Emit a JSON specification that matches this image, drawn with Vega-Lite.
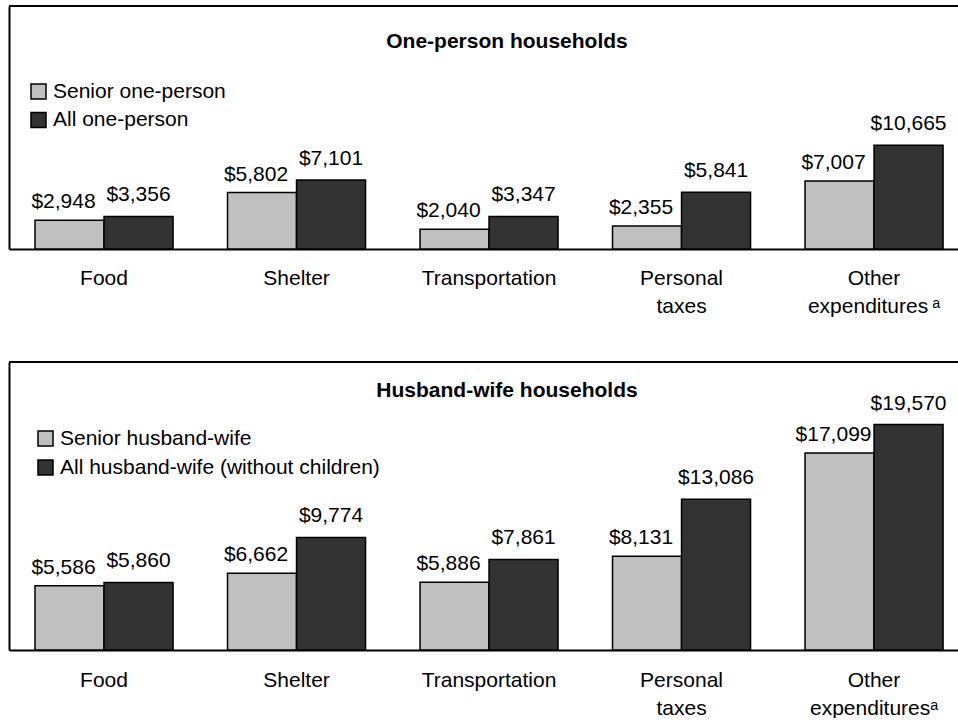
{
  "$schema": "https://vega.github.io/schema/vega-lite/v6.json",
  "padding": {"left": 8, "top": 5, "right": 0, "bottom": 0},
  "background": "white",
  "config": {
    "font": "Liberation Sans",
    "view": {"stroke": null},
    "axis": {"grid": false, "minExtent": 0},
    "concat": {"spacing": 45}
  },
  "data": {
    "values": [
      {"panel": "one", "category": "Food", "series": "Senior one-person", "group": "senior", "value": 2948},
      {"panel": "one", "category": "Food", "series": "All one-person", "group": "all", "value": 3356},
      {"panel": "one", "category": "Shelter", "series": "Senior one-person", "group": "senior", "value": 5802},
      {"panel": "one", "category": "Shelter", "series": "All one-person", "group": "all", "value": 7101},
      {"panel": "one", "category": "Transportation", "series": "Senior one-person", "group": "senior", "value": 2040},
      {"panel": "one", "category": "Transportation", "series": "All one-person", "group": "all", "value": 3347},
      {"panel": "one", "category": "Personal taxes", "series": "Senior one-person", "group": "senior", "value": 2355},
      {"panel": "one", "category": "Personal taxes", "series": "All one-person", "group": "all", "value": 5841},
      {"panel": "one", "category": "Other expenditures", "series": "Senior one-person", "group": "senior", "value": 7007},
      {"panel": "one", "category": "Other expenditures", "series": "All one-person", "group": "all", "value": 10665},
      {"panel": "hw", "category": "Food", "series": "Senior husband-wife", "group": "senior", "value": 5586},
      {"panel": "hw", "category": "Food", "series": "All husband-wife (without children)", "group": "all", "value": 5860},
      {"panel": "hw", "category": "Shelter", "series": "Senior husband-wife", "group": "senior", "value": 6662},
      {"panel": "hw", "category": "Shelter", "series": "All husband-wife (without children)", "group": "all", "value": 9774},
      {"panel": "hw", "category": "Transportation", "series": "Senior husband-wife", "group": "senior", "value": 5886},
      {"panel": "hw", "category": "Transportation", "series": "All husband-wife (without children)", "group": "all", "value": 7861},
      {"panel": "hw", "category": "Personal taxes", "series": "Senior husband-wife", "group": "senior", "value": 8131},
      {"panel": "hw", "category": "Personal taxes", "series": "All husband-wife (without children)", "group": "all", "value": 13086},
      {"panel": "hw", "category": "Other expenditures", "series": "Senior husband-wife", "group": "senior", "value": 17099},
      {"panel": "hw", "category": "Other expenditures", "series": "All husband-wife (without children)", "group": "all", "value": 19570}
    ]
  },
  "resolve": {
    "scale": {"color": "independent", "y": "independent", "xOffset": "independent", "x": "independent"},
    "legend": {"color": "independent"}
  },
  "vconcat": [
    {
      "transform": [{"filter": "datum.panel == 'one'"}],
      "width": 950,
      "height": 243,
      "title": {"text": "One-person households", "anchor": "middle", "frame": "group", "offset": -58, "dx": 23, "baseline": "middle", "fontSize": 21, "fontWeight": "bold", "font": "Liberation Sans", "color": "black"},
      "layer": [
        {
          "mark": {"type": "bar", "stroke": "black", "strokeWidth": 1.5},
          "encoding": {
            "x": {"field": "category", "type": "nominal", "sort": ["Food", "Shelter", "Transportation", "Personal taxes", "Other expenditures"],
              "scale": {"paddingInner": 0.283, "paddingOuter": 0.109, "align": 0.62},
              "axis": {"title": null, "domain": true, "domainColor": "black", "domainWidth": 2, "ticks": false, "labelAngle": 0, "labelFontSize": 21, "labelFont": "Liberation Sans", "labelColor": "black", "labelPadding": 18, "labelLineHeight": 28, "labelBaseline": "top", "labelOverlap": false, "labelLimit": 400,
                "labelExpr": "datum.value == 'Personal taxes' ? ['Personal', 'taxes'] : datum.value == 'Other expenditures' ? ['Other', 'expenditures\u2009\u1d43'] : datum.value"}},
            "xOffset": {"field": "group", "sort": ["senior", "all"], "scale": {"paddingInner": 0, "paddingOuter": 0}},
            "y": {"field": "value", "type": "quantitative", "scale": {"domain": [0, 25000], "nice": false},
              "axis": {"title": null, "domain": true, "domainColor": "black", "domainWidth": 2, "ticks": false, "labels": false, "grid": false}},
            "color": {"field": "series", "type": "nominal",
              "scale": {"domain": ["Senior one-person", "All one-person"], "range": ["#c0c0c0", "#333333"]},
              "legend": {"orient": "none", "legendX": 19, "legendY": 75, "title": null, "symbolType": "square", "symbolSize": 225, "symbolStrokeColor": "black", "symbolStrokeWidth": 1.5, "symbolOpacity": 1, "labelFontSize": 21, "labelFont": "Liberation Sans", "labelColor": "black", "rowPadding": 6.5, "labelOffset": 4, "labelLimit": 500}}
          }
        },
        {
          "transform": [{"filter": "datum.group == 'senior'"}],
          "mark": {"type": "text", "baseline": "alphabetic", "dy": -12, "dx": -6, "fontSize": 21, "color": "black"},
          "encoding": {
            "x": {"field": "category", "type": "nominal", "sort": ["Food", "Shelter", "Transportation", "Personal taxes", "Other expenditures"]},
            "xOffset": {"field": "group", "sort": ["senior", "all"]},
            "y": {"field": "value", "type": "quantitative"},
            "text": {"field": "value", "type": "quantitative", "format": "$,"}
          }
        },
        {
          "transform": [{"filter": "datum.group == 'all'"}],
          "mark": {"type": "text", "baseline": "alphabetic", "dy": -15, "fontSize": 21, "color": "black"},
          "encoding": {
            "x": {"field": "category", "type": "nominal", "sort": ["Food", "Shelter", "Transportation", "Personal taxes", "Other expenditures"]},
            "xOffset": {"field": "group", "sort": ["senior", "all"]},
            "y": {"field": "value", "type": "quantitative"},
            "text": {"field": "value", "type": "quantitative", "format": "$,"}
          }
        },
        {
          "mark": {"type": "rule", "strokeWidth": 2, "color": "black"},
          "encoding": {"y": {"datum": 25000}}
        }
      ]
    },
    {
      "transform": [{"filter": "datum.panel == 'hw'"}],
      "width": 950,
      "height": 288,
      "title": {"text": "Husband-wife households", "anchor": "middle", "frame": "group", "offset": -51, "dx": 23, "baseline": "middle", "fontSize": 21, "fontWeight": "bold", "font": "Liberation Sans", "color": "black"},
      "layer": [
        {
          "mark": {"type": "bar", "stroke": "black", "strokeWidth": 1.5},
          "encoding": {
            "x": {"field": "category", "type": "nominal", "sort": ["Food", "Shelter", "Transportation", "Personal taxes", "Other expenditures"],
              "scale": {"paddingInner": 0.283, "paddingOuter": 0.109, "align": 0.62},
              "axis": {"title": null, "domain": true, "domainColor": "black", "domainWidth": 2, "ticks": false, "labelAngle": 0, "labelFontSize": 21, "labelFont": "Liberation Sans", "labelColor": "black", "labelPadding": 19, "labelLineHeight": 28, "labelBaseline": "top", "labelOverlap": false, "labelLimit": 400,
                "labelExpr": "datum.value == 'Personal taxes' ? ['Personal', 'taxes'] : datum.value == 'Other expenditures' ? ['Other', 'expenditures\u1d43'] : datum.value"}},
            "xOffset": {"field": "group", "sort": ["senior", "all"], "scale": {"paddingInner": 0, "paddingOuter": 0}},
            "y": {"field": "value", "type": "quantitative", "scale": {"domain": [0, 25000], "nice": false},
              "axis": {"title": null, "domain": true, "domainColor": "black", "domainWidth": 2, "ticks": false, "labels": false, "grid": false}},
            "color": {"field": "series", "type": "nominal",
              "scale": {"domain": ["Senior husband-wife", "All husband-wife (without children)"], "range": ["#c0c0c0", "#333333"]},
              "legend": {"orient": "none", "legendX": 26, "legendY": 66, "title": null, "symbolType": "square", "symbolSize": 225, "symbolStrokeColor": "black", "symbolStrokeWidth": 1.5, "symbolOpacity": 1, "labelFontSize": 21, "labelFont": "Liberation Sans", "labelColor": "black", "rowPadding": 7, "labelOffset": 4, "labelLimit": 500}}
          }
        },
        {
          "transform": [{"filter": "datum.group == 'senior'"}],
          "mark": {"type": "text", "baseline": "alphabetic", "dy": -12, "dx": -6, "fontSize": 21, "color": "black"},
          "encoding": {
            "x": {"field": "category", "type": "nominal", "sort": ["Food", "Shelter", "Transportation", "Personal taxes", "Other expenditures"]},
            "xOffset": {"field": "group", "sort": ["senior", "all"]},
            "y": {"field": "value", "type": "quantitative"},
            "text": {"field": "value", "type": "quantitative", "format": "$,"}
          }
        },
        {
          "transform": [{"filter": "datum.group == 'all'"}],
          "mark": {"type": "text", "baseline": "alphabetic", "dy": -15, "fontSize": 21, "color": "black"},
          "encoding": {
            "x": {"field": "category", "type": "nominal", "sort": ["Food", "Shelter", "Transportation", "Personal taxes", "Other expenditures"]},
            "xOffset": {"field": "group", "sort": ["senior", "all"]},
            "y": {"field": "value", "type": "quantitative"},
            "text": {"field": "value", "type": "quantitative", "format": "$,"}
          }
        },
        {
          "mark": {"type": "rule", "strokeWidth": 2, "color": "black"},
          "encoding": {"y": {"datum": 25000}}
        }
      ]
    }
  ]
}
